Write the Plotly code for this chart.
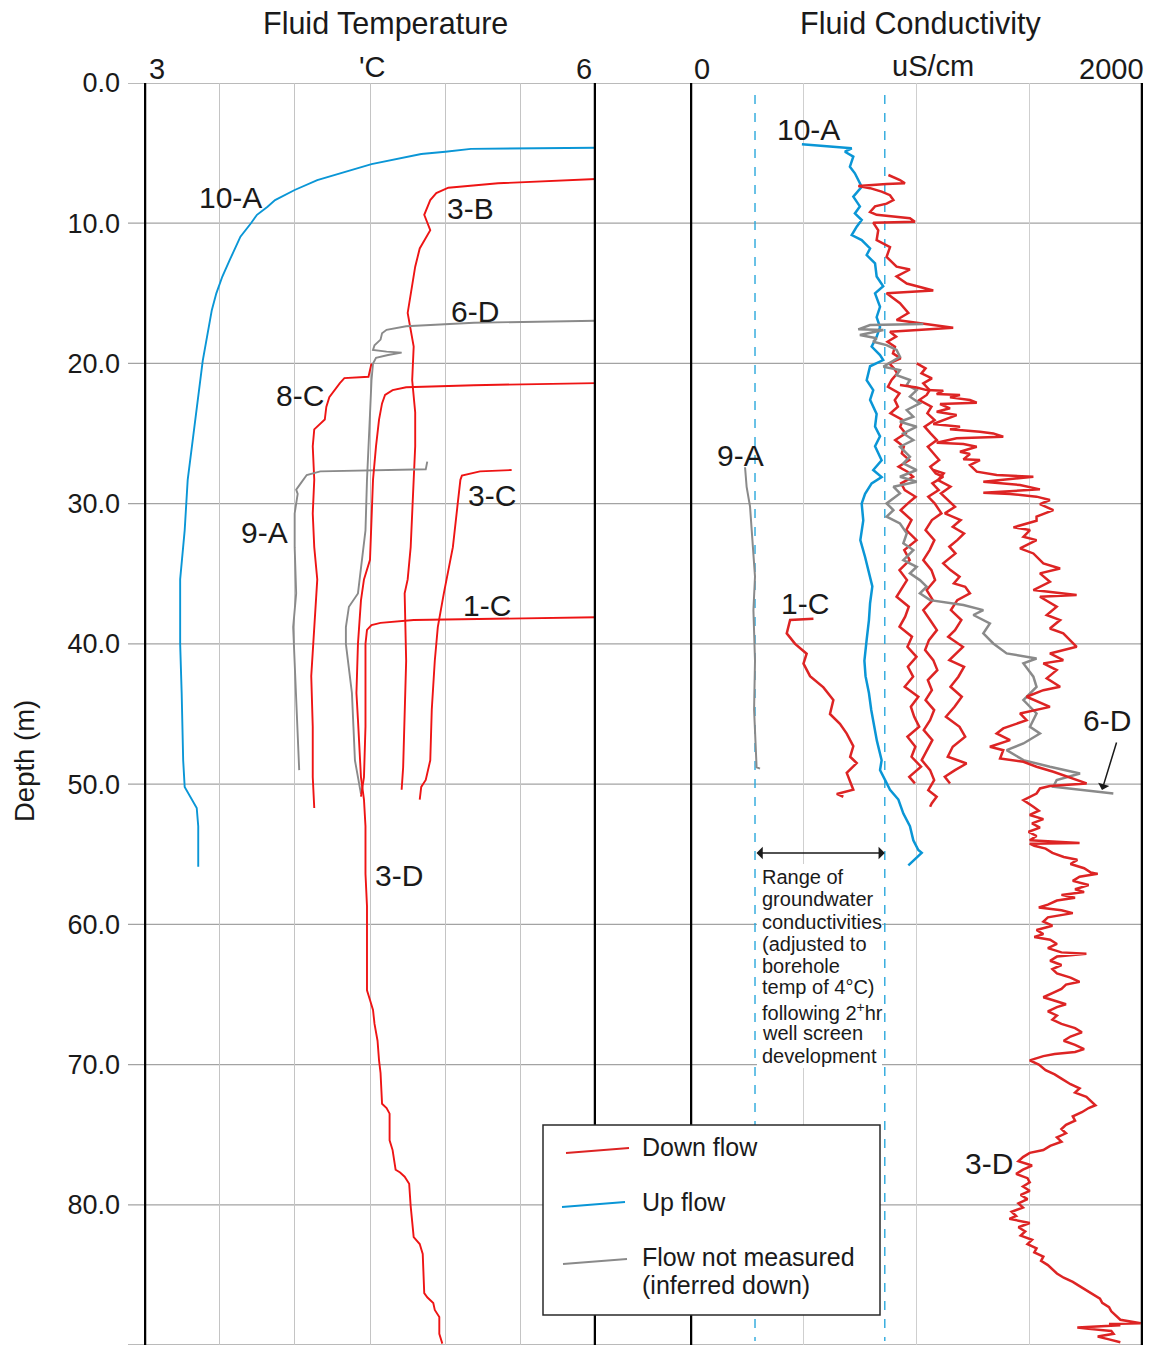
import plotly.graph_objects as go

RED_T = "#ee1414"
RED_C = "#dd2424"
BLUE = "#0a96d6"
GRAY = "#8a8a8a"
CYAN = "#2aa8dc"
FONT = "Liberation Sans, Arial, sans-serif"

# ---------------- Fluid temperature profiles (depth m, temp degC) ----------------
t10A_depth = [4.62, 4.70, 4.90, 5.06, 5.78, 6.33, 6.92, 7.63, 8.35, 8.82, 9.40, 10.0, 10.96, 12.6, 13.8, 15.0,
              16.2, 19.8, 24.0, 28.3, 31.9, 35.4, 38.8, 40.0, 43.5, 48.3, 50.2, 50.9, 51.7, 53.0, 55.4, 55.9]
t10A_temp = [6.0, 5.17, 5.0, 4.84, 4.51, 4.33, 4.15, 4.0, 3.87, 3.82, 3.75, 3.71, 3.64, 3.57, 3.52, 3.48,
             3.45, 3.39, 3.34, 3.29, 3.27, 3.24, 3.24, 3.24, 3.25, 3.26, 3.27, 3.31, 3.35, 3.36, 3.36, 3.36]

t3B_depth = [6.85, 7.15, 7.47, 7.85, 8.35, 9.4, 10.5, 11.2, 11.8, 13.1, 14.3, 16.4, 18.8, 21.2, 23.5, 25.9,
             28.3, 30.7, 33.1, 35.4, 36.4, 41.2, 45.9, 48.8, 50.4]
t3B_temp = [6.0, 5.35, 5.02, 4.94, 4.90, 4.86, 4.90, 4.86, 4.83, 4.80, 4.78, 4.75, 4.79, 4.78, 4.80, 4.80,
            4.79, 4.78, 4.77, 4.75, 4.73, 4.74, 4.73, 4.72, 4.71]

t3C_depth = [27.6, 27.7, 28.0, 28.3, 30.2, 33.1, 36.4, 38.8, 41.2, 44.7, 48.3, 49.7, 50.2, 51.1]
t3C_temp = [5.44, 5.23, 5.11, 5.10, 5.08, 5.05, 4.99, 4.95, 4.93, 4.91, 4.90, 4.87, 4.84, 4.83]

t8C_depth = [20.0, 20.5, 20.95, 21.05, 21.4, 22.4, 23.1, 24.0, 24.3, 24.7, 25.9, 28.3, 30.7, 33.1, 35.4,
             38.8, 42.3, 45.9, 49.5, 51.7]
t8C_temp = [4.51, 4.50, 4.49, 4.33, 4.30, 4.23, 4.21, 4.20, 4.17, 4.13, 4.12, 4.13, 4.12, 4.13, 4.15,
            4.13, 4.11, 4.12, 4.12, 4.13]

t9A_depth = [27.0, 27.55, 27.7, 27.96, 28.55, 29.0, 29.3, 30.7, 33.1, 36.4, 38.8, 41.2, 44.7, 46.6, 49.0]
t9A_temp = [4.88, 4.87, 4.17, 4.08, 4.04, 4.01, 4.02, 4.0, 4.0, 4.01, 3.99, 4.0, 4.01, 4.02, 4.03]

t6D_depth = [16.95, 17.1, 17.35, 17.6, 17.85, 18.3, 18.7, 19.04, 19.16, 19.23, 19.4, 19.6, 20.0, 21.2, 23.6,
             25.9, 28.3, 31.9, 35.4, 36.4, 37.35, 38.8, 40.0, 41.6, 43.5, 45.9, 48.3, 49.5, 50.7]
t6D_temp = [6.0, 5.19, 4.74, 4.61, 4.58, 4.57, 4.53, 4.52, 4.61, 4.71, 4.62, 4.54, 4.52, 4.51, 4.50,
            4.49, 4.48, 4.47, 4.43, 4.42, 4.36, 4.34, 4.34, 4.36, 4.38, 4.39, 4.40, 4.42, 4.44]

t3D_depth = [21.4, 21.55, 21.7, 21.9, 22.25, 22.85, 24.0, 25.9, 28.3, 30.7, 33.1, 34.0, 35.4, 36.9, 40.0,
             43.5, 45.4, 47.3, 49.5, 51.1, 53.0, 55.4, 56.4, 58.7, 61.1, 63.5, 64.7, 65.4, 66.1, 67.1,
             68.3, 69.7, 70.6, 72.8, 73.1, 73.5, 75.4, 76.1, 77.5, 77.7, 78.0, 78.5, 80.1, 82.3, 82.8,
             83.5, 86.3, 86.6, 87.0, 87.5, 88.0, 89.2, 89.9]
t3D_temp = [6.0, 5.19, 4.74, 4.65, 4.60, 4.58, 4.56, 4.54, 4.52, 4.51, 4.50, 4.50, 4.46, 4.44, 4.42,
            4.41, 4.42, 4.43, 4.44, 4.46, 4.47, 4.47, 4.47, 4.48, 4.48, 4.48, 4.48, 4.50, 4.52, 4.53,
            4.55, 4.56, 4.57, 4.58, 4.61, 4.63, 4.63, 4.65, 4.67, 4.70, 4.73, 4.76, 4.77, 4.79, 4.83,
            4.85, 4.86, 4.88, 4.92, 4.93, 4.96, 4.96, 4.98]

t1C_depth = [38.1, 38.3, 38.5, 38.66, 39.0, 40.0, 41.2, 45.9, 49.5, 50.9]
t1C_temp = [6.0, 4.79, 4.57, 4.51, 4.48, 4.47, 4.47, 4.47, 4.46, 4.44]

# ---------------- Fluid conductivity profiles (depth m, uS/cm) ----------------
c10A_depth = [4.37, 4.6, 4.66, 4.9, 5.25, 5.97, 6.44, 6.92, 7.4, 8.1, 8.8, 9.3, 9.77, 10.25, 10.84, 11.2,
              11.8, 12.27, 12.86, 13.8, 14.5, 15.0, 15.96, 16.7, 17.4, 18.1, 18.8, 19.4, 19.76, 20.2,
              21.2, 21.9, 22.6, 23.6, 24.5, 25.2, 25.9, 26.9, 27.6, 28.1, 28.55, 29.3, 30.0, 31.2,
              32.6, 33.8, 35.0, 35.9, 37.1, 38.3, 39.7, 41.2, 42.3, 43.5, 44.7, 45.9, 46.9, 48.3,
              49.0, 49.7, 50.4, 51.1, 52.1, 53.0, 54.0, 54.7, 54.9, 55.8]
c10A_cond = [494, 683, 714, 684, 721, 706, 728, 743, 758, 721, 750, 728, 758, 736, 714, 758,
             795, 780, 817, 824, 853, 817, 839, 824, 839, 824, 802, 839, 853, 795,
             780, 809, 795, 824, 817, 839, 817, 846, 809, 846, 802, 773, 758, 765,
             752, 773, 790, 805, 795, 790, 780, 770, 775, 790, 800, 815, 825, 846,
             839, 861, 883, 920, 942, 971, 986, 1008, 1023, 964]

c3B_depth = [6.56, 6.92, 7.15, 7.2, 7.35, 7.5, 7.75, 8.0, 8.35, 8.6, 8.8, 9.2, 9.4, 9.65, 9.9, 9.96,
             10.5, 11.2, 11.7, 12.4, 13.1, 13.3, 13.8, 14.3, 14.8, 15.0, 15.7, 16.4, 16.9, 17.45,
             17.74, 18.09, 18.45, 18.81, 19.28, 19.64, 20.0, 20.35, 20.71, 21.18, 21.66, 22.13, 22.61,
             23.09, 23.56, 24.04, 24.51, 24.99, 25.46, 25.94, 26.41, 26.89, 27.37, 27.72, 28.08, 28.55,
             29.03, 29.51, 29.98, 30.46, 31.17, 31.88, 32.6, 33.31, 34.02, 34.74, 35.45, 35.93, 36.64,
             37.35, 38.06, 38.78, 39.49, 40.21, 40.92, 41.63, 42.34, 43.06, 43.77, 44.48, 45.2, 45.91,
             46.62, 47.34, 48.05, 48.76, 49.48, 49.95]
c3B_cond = [876, 927, 949, 868, 743, 795, 846, 883, 898, 868, 817, 795, 824, 971, 993, 809,
            831, 824, 883, 868, 912, 971, 912, 957, 1074, 868, 927, 964, 912, 1162,
            883, 910, 872, 905, 896, 930, 880, 900, 915, 890, 874, 925, 904,
            918, 885, 940, 928, 952, 906, 944, 935, 968, 921, 960, 985, 932,
            948, 996, 962, 930, 978, 955, 1000, 946, 970, 925, 958, 940, 912,
            966, 950, 925, 980, 960, 1000, 962, 985, 948, 1008, 975, 990, 1012,
            960, 995, 978, 1020, 968, 993]

c8C_depth = [20.0, 20.35, 20.71, 21.07, 21.42, 21.90, 22.25, 22.61, 23.09, 23.56, 24.04, 24.51, 24.99,
             25.46, 25.94, 26.41, 26.89, 27.37, 27.84, 28.08, 28.55, 29.03, 29.51, 29.98, 30.69, 31.17,
             31.88, 32.6, 33.31, 34.02, 34.74, 35.45, 36.16, 36.88, 37.59, 38.30, 39.02, 39.73, 40.44,
             41.16, 41.87, 42.58, 43.3, 44.01, 44.72, 45.44, 46.15, 46.86, 47.58, 48.29, 49.0, 49.71,
             50.43, 50.9, 51.38, 51.62]
c8C_cond = [1001, 1040, 1022, 1068, 1030, 1058, 1045, 1012, 1066, 1048, 1080, 1036, 1062,
            1090, 1050, 1075, 1100, 1061, 1085, 1118, 1070, 1098, 1052, 1080, 1110, 1068,
            1040, 1079, 1058, 1030, 1066, 1082, 1045, 1072, 1030, 1060, 1090, 1055, 1038,
            1074, 1092, 1050, 1068, 1040, 1078, 1060, 1032, 1070, 1046, 1023, 1060, 1078,
            1052, 1089, 1067, 1060]

c3C_depth = [27.6, 27.84, 28.32, 28.79, 29.27, 29.74, 30.22, 30.69, 31.17, 31.65, 32.12, 32.6, 33.07,
             33.55, 34.26, 34.74, 35.21, 35.69, 35.93, 36.4, 36.88, 37.59, 38.3, 39.02, 39.49, 40.21,
             40.68, 41.16, 41.63, 42.34, 43.06, 43.77, 44.48, 45.2, 45.91, 46.62, 47.34, 48.05, 48.53,
             49.0, 49.48, 49.95]
c3C_cond = [1074, 1120, 1095, 1150, 1108, 1140, 1170, 1125, 1195, 1160, 1210, 1180, 1145,
            1172, 1118, 1150, 1190, 1165, 1215, 1236, 1180, 1152, 1198, 1170, 1140, 1205,
            1176, 1145, 1210, 1185, 1150, 1200, 1168, 1130, 1190, 1215, 1160, 1138, 1221,
            1170, 1125, 1148]

c3D_depth = [21.54, 21.71, 21.90, 21.94, 22.18, 22.25, 22.42, 22.61, 22.80, 22.90, 23.20, 23.44, 23.68,
             23.85, 24.32, 24.51, 24.70, 24.87, 24.99, 25.23, 25.34, 25.65, 25.75, 25.94, 26.30, 26.46,
             26.84, 26.89, 27.25, 27.72, 27.96, 28.08, 28.44, 28.67, 28.98, 29.22, 29.31, 29.50, 29.74,
             30.03, 30.46, 30.93, 31.22, 31.69, 31.88, 32.36, 32.60, 33.19, 33.55, 34.26, 34.62, 34.97,
             35.57, 36.16, 36.52, 36.64, 37.35, 37.94, 38.30, 38.90, 39.25, 40.21, 40.68, 41.16, 41.39,
             41.87, 42.46, 43.06, 43.30, 43.77, 44.49, 44.96, 45.44, 46.03, 46.39, 46.86, 47.34, 47.58,
             48.17, 48.41, 48.76, 49.12, 49.71, 49.95, 50.14, 50.31, 50.67, 51.14, 51.62,
             51.9, 52.2, 52.5, 52.8, 53.1, 53.4, 53.7, 54.0, 54.2, 54.25, 54.4, 54.6, 54.9, 55.2, 55.4,
             55.7, 56.0, 56.3, 56.4, 56.6, 56.9, 57.2, 57.5, 57.7, 57.9, 58.1, 58.3, 58.6, 58.8, 59.0,
             59.2, 59.5, 59.8, 60.1, 60.4, 60.7, 60.9, 61.1, 61.4, 61.7, 62.0, 62.1, 62.3, 62.6, 62.9,
             63.2, 63.5, 63.8, 64.1, 64.3, 64.6, 64.9, 65.2, 65.4, 65.7, 65.9, 66.2, 66.5, 66.8, 67.1,
             67.4, 67.7, 68.0, 68.3, 68.6, 68.9, 69.1, 69.25, 69.4, 69.7, 70.0, 70.4, 70.7, 71.0, 71.4,
             71.7, 72.0, 72.3, 72.6, 72.9, 73.1, 73.4, 73.7, 74.0, 74.3, 74.6, 74.9, 75.2, 75.5, 75.8,
             76.1, 76.3, 76.6, 76.9, 77.2, 77.5, 77.8, 78.1, 78.4, 78.7, 79.0, 79.3, 79.6, 79.9, 80.2,
             80.5, 80.8, 81.0, 81.3, 81.6, 81.9, 82.2, 82.5, 82.8, 83.1, 83.4, 83.7, 84.0, 84.3, 84.6,
             84.9, 85.2, 85.5, 85.8, 86.1, 86.4, 86.7, 87.0, 87.3, 87.6, 87.9, 88.2, 88.45, 88.5, 88.6,
             88.75, 88.85, 89.0, 89.2, 89.4, 89.6, 89.8]
c3D_cond = [927, 1001, 1045, 1118, 1089, 1192, 1148, 1236, 1266, 1104, 1148, 1089, 1177,
            1148, 1074, 1192, 1148, 1280, 1339, 1383, 1177, 1089, 1207, 1266, 1192, 1236,
            1207, 1280, 1236, 1266, 1354, 1516, 1295, 1457, 1545, 1295, 1413, 1530, 1589,
            1545, 1604, 1530, 1530, 1428, 1501, 1472, 1530, 1457, 1516, 1560, 1634, 1545,
            1589, 1516, 1707, 1545, 1619, 1575, 1634, 1589, 1648, 1707, 1589, 1648, 1560,
            1619, 1575, 1634, 1560, 1486, 1589, 1457, 1486, 1383, 1354, 1413, 1324, 1383,
            1369, 1472, 1530, 1604, 1707, 1751, 1589, 1545, 1530, 1472, 1516,
            1540, 1500, 1560, 1510, 1545, 1495, 1530, 1500, 1720, 1500, 1520, 1570, 1600, 1650, 1710,
            1680, 1740, 1770, 1800, 1720, 1690, 1760, 1700, 1740, 1640, 1700, 1620, 1580, 1540, 1640,
            1690, 1580, 1560, 1600, 1530, 1560, 1520, 1590, 1620, 1580, 1640, 1750, 1620, 1590, 1640,
            1600, 1620, 1680, 1720, 1660, 1640, 1600, 1560, 1600, 1660, 1620, 1580, 1620, 1600, 1640,
            1700, 1730, 1680, 1650, 1700, 1740, 1700, 1610, 1560, 1500, 1540, 1570, 1610, 1640, 1680,
            1720, 1700, 1750, 1770, 1790, 1760, 1730, 1690, 1700, 1660, 1640, 1660, 1620, 1640, 1590,
            1560, 1500, 1470, 1450, 1510, 1470, 1440, 1490, 1500, 1470, 1500, 1460, 1490, 1450, 1470,
            1420, 1440, 1410, 1500, 1450, 1480, 1460, 1510, 1490, 1530, 1520, 1560, 1550, 1580, 1600,
            1620, 1650, 1690, 1720, 1750, 1780, 1810, 1820, 1850, 1860, 1880, 1900, 1990, 1850, 1900,
            1710, 1760, 1860, 1870, 1800, 1850, 1900]

c1C_depth = [38.2, 38.3, 39.25, 40.0, 40.7, 41.4, 42.3, 43.1, 44.0, 45.0, 45.7, 46.4, 47.3, 48.05, 48.5,
             49.2, 50.4, 50.7, 50.9]
c1C_cond = [545, 442, 427, 464, 515, 501, 530, 589, 633, 618, 662, 692, 721, 707, 736,
            692, 721, 648, 677]

c6D_depth = [17.19, 17.26, 17.57, 17.62, 17.97, 18.21, 18.45, 18.69, 19.04, 19.52, 20.23, 20.47, 20.83,
             21.18, 21.54, 21.90, 22.37, 22.85, 23.32, 23.80, 24.16, 24.51, 24.99, 25.46, 25.94, 26.65,
             27.13, 27.60, 28.08, 28.44, 28.79, 29.27, 29.98, 30.46, 30.93, 31.41, 32.12, 32.83, 33.31,
             34.02, 34.50, 34.97, 35.45, 35.92, 36.40, 36.88, 37.23, 37.59, 37.94, 38.54, 39.25, 39.97,
             40.68, 41.04, 41.39, 42.34, 43.06, 44.01, 44.96, 45.91, 46.39, 47.10, 47.58, 48.29, 48.76,
             49.24, 49.71, 50.19, 50.67]
c6D_cond = [1030, 795, 743, 854, 750, 824, 809, 868, 912, 927, 854, 927, 912,
            971, 957, 1001, 971, 1015, 957, 986, 927, 1001, 942, 986, 927, 971,
            942, 1001, 927, 1001, 898, 927, 868, 898, 868, 927, 957, 942, 986,
            942, 1001, 971, 1015, 1045, 1015, 1060, 1207, 1295, 1251, 1324, 1295, 1339,
            1398, 1530, 1472, 1516, 1530, 1472, 1530, 1501, 1545, 1472, 1398, 1472, 1589,
            1722, 1619, 1604, 1869]

c9A_depth = [27.4, 28.8, 30.2, 31.9, 33.5, 35.2, 37.6, 41.2, 44.7, 47.1, 48.8, 48.9]
c9A_cond = [243, 250, 265, 272, 280, 287, 280, 287, 283, 291, 294, 309]

depth_ticks = [0, 10, 20, 30, 40, 50, 60, 70, 80, 90]
depth_labels = ["0.0", "10.0", "20.0", "30.0", "40.0", "50.0", "60.0", "70.0", "80.0", "90.0"]
gw_range = [287, 860]

# ---------------- geometry helpers (pixel -> paper) ----------------
W, H = 1156, 1357
ML, MR, MT, MB = 144, 13, 83, 12
PW, PH = W - ML - MR, H - MT - MB


def px(x):
    return (x - ML) / PW


def py(y):
    return 1 - (y - MT) / PH


def dep(y):
    return (y - MT) / (PH / 90.0)


fig = go.Figure()


def add(xv, yv, color, axis, width):
    fig.add_trace(go.Scatter(x=xv, y=yv, mode="lines", xaxis=axis, yaxis="y",
                             line=dict(color=color, width=width), showlegend=False,
                             hoverinfo="skip"))


# temperature panel
add(t10A_temp, t10A_depth, BLUE, "x", 1.9)
add(t3B_temp, t3B_depth, RED_T, "x", 1.9)
add(t3C_temp, t3C_depth, RED_T, "x", 1.9)
add(t8C_temp, t8C_depth, RED_T, "x", 1.9)
add(t9A_temp, t9A_depth, GRAY, "x", 1.9)
add(t6D_temp, t6D_depth, GRAY, "x", 1.9)
add(t3D_temp, t3D_depth, RED_T, "x", 1.9)
add(t1C_temp, t1C_depth, RED_T, "x", 1.9)

# conductivity panel
add(c9A_cond, c9A_depth, GRAY, "x2", 2.0)
add(c10A_cond, c10A_depth, BLUE, "x2", 2.5)
add(c3B_cond, c3B_depth, RED_C, "x2", 2.5)
add(c8C_cond, c8C_depth, RED_C, "x2", 2.5)
add(c3C_cond, c3C_depth, RED_C, "x2", 2.5)
add(c6D_cond, c6D_depth, GRAY, "x2", 2.5)
add(c3D_cond, c3D_depth, RED_C, "x2", 2.5)
add(c1C_cond, c1C_depth, RED_C, "x2", 2.5)

shapes = []
for d in depth_ticks:
    shapes.append(dict(type="line", xref="paper", yref="y", x0=px(128), x1=1, y0=d, y1=d,
                       line=dict(color="#a3a3a3", width=1.3), layer="below"))
for g in gw_range:
    shapes.append(dict(type="line", xref="x2", yref="y", x0=g, x1=g, y0=dep(95), y1=dep(1341),
                       line=dict(color=CYAN, width=1.4, dash="dash"), layer="below"))
for xr, xv in [("x", 3), ("x", 6), ("x2", 0), ("x2", 2000)]:
    shapes.append(dict(type="line", xref=xr, yref="y", x0=xv, x1=xv, y0=0, y1=90,
                       line=dict(color="black", width=4.5), layer="above"))
shapes.append(dict(type="rect", xref="paper", yref="paper", x0=px(757), x1=px(882), y0=py(1068), y1=py(864),
                   fillcolor="white", line=dict(width=0), layer="above"))
shapes.append(dict(type="rect", xref="paper", yref="paper", x0=px(543), x1=px(880), y0=py(1315), y1=py(1125),
                   fillcolor="white", line=dict(color="#2a2a2a", width=1.5), layer="above"))
for (x0, y0, x1, y1, col) in [(566, 1153, 629, 1148, RED_C), (562, 1207, 625, 1202, BLUE),
                              (563, 1264, 627, 1259, GRAY)]:
    shapes.append(dict(type="line", xref="paper", yref="paper", x0=px(x0), y0=py(y0), x1=px(x1), y1=py(y1),
                       line=dict(color=col, width=2), layer="above"))

ann = []


def text(x, y, s, size, xref="paper", yref="paper", xanchor="center", color="#1a1a1a", angle=0):
    ann.append(dict(x=x, y=y, xref=xref, yref=yref, text=s, showarrow=False, xanchor=xanchor,
                    yanchor="middle", textangle=angle, font=dict(family=FONT, size=size, color=color)))


text(px(385), py(24), "Fluid Temperature", 30.5)
text(px(920), py(24), "Fluid Conductivity", 30.5)
text(px(157), py(69), "3", 29)
text(px(372), py(67), "'C", 29)
text(px(584), py(69), "6", 29)
text(px(702), py(69), "0", 29)
text(px(933), py(66), "uS/cm", 29)
text(px(1111), py(69), "2000", 29)
text(px(24), py(761), "Depth (m)", 27.5, angle=-90)

for s, t, d in [("10-A", 3.571, 8.13), ("3-B", 5.170, 8.98), ("6-D", 5.197, 16.33), ("8-C", 4.035, 22.32),
                ("3-C", 5.310, 29.39), ("9-A", 3.803, 32.03), ("1-C", 5.276, 37.23), ("3-D", 4.692, 56.49)]:
    text(t, d, s, 30, xref="x", yref="y")
for s, c, d in [("10-A", 521, 3.35), ("9-A", 221, 26.53), ("1-C", 508, 37.09), ("6-D", 1841, 45.44),
                ("3-D", 1320, 77.04)]:
    text(c, d, s, 30, xref="x2", yref="y")

note = ["Range of", "groundwater", "conductivities", "(adjusted to", "borehole", "temp of 4°C)",
        "following 2<sup>+</sup>hr", "well screen", "development"]
note_y = [877, 899, 921.5, 943.5, 965.5, 987.5, 1011, 1033, 1055.5]
for s, yy in zip(note, note_y):
    text(px(760), py(yy), s, 20, xanchor="left")

text(px(640), py(1147), "Down flow", 25, xanchor="left")
text(px(640), py(1202), "Up flow", 25, xanchor="left")
text(px(640), py(1257), "Flow not measured", 25, xanchor="left")
text(px(640), py(1285), "(inferred down)", 25, xanchor="left")

ann.append(dict(x=gw_range[1], y=dep(853), ax=gw_range[0], ay=dep(853), xref="x2", yref="y", axref="x2", ayref="y",
                text="", showarrow=True, arrowhead=1, startarrowhead=1, arrowside="end+start",
                arrowwidth=1.6, arrowsize=1.3, startarrowsize=1.3, arrowcolor="#1a1a1a"))
ann.append(dict(x=px(1102), y=py(790), ax=15, ay=-49, xref="paper", yref="paper", axref="pixel", ayref="pixel",
                text="", showarrow=True, arrowhead=1, arrowwidth=1.5, arrowsize=1.3, arrowcolor="#1a1a1a"))

fig.update_layout(
    width=W, height=H, margin=dict(l=ML, r=MR, t=MT, b=MB),
    paper_bgcolor="white", plot_bgcolor="rgba(0,0,0,0)",
    showlegend=False, hovermode=False,
    xaxis=dict(domain=[0, px(596)], range=[3, 6], tickvals=[3.5, 4, 4.5, 5, 5.5], showticklabels=False,
               showgrid=True, gridcolor="#c4c4c4", gridwidth=1, zeroline=False, showline=False, ticks="",
               anchor="y"),
    xaxis2=dict(domain=[px(690), 1], range=[0, 2000], tickvals=[500, 1000, 1500], showticklabels=False,
                showgrid=True, gridcolor="#cfcfcf", gridwidth=1, zeroline=False, showline=False, ticks="",
                anchor="y"),
    yaxis=dict(range=[90, 0], tickvals=depth_ticks, ticktext=depth_labels, showgrid=False, zeroline=False,
               showline=False, ticks="", ticklabelstandoff=23,
               tickfont=dict(family=FONT, size=27, color="#1a1a1a")),
    shapes=shapes, annotations=ann,
    font=dict(family=FONT),
)

fig.write_html("out.html")
